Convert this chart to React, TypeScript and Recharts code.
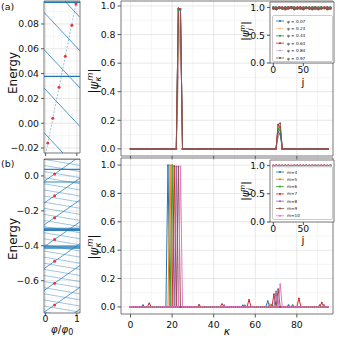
import React from "react";
import {
  ComposedChart,
  LineChart,
  Line,
  Scatter,
  XAxis,
  YAxis,
  CartesianGrid,
  ReferenceArea,
} from "recharts";

const FONT = "'DejaVu Sans', sans-serif";
const TAB = ["#1f77b4", "#ff7f0e", "#2ca02c", "#d62728", "#9467bd", "#8c564b", "#e377c2"];
const BLUE = "#1f77b4";
const DOT_RED = "#e8353a";
const GRID_MAJOR = "#d9d9d9";
const GRID_MINOR = "#eeeeee";
const FRAME = "#555";

// ---------- left panels: energy vs flux ----------
const phiSpan = [-0.05, 1.1];

// (a) zoomed spectrum
const aDownStart = [0.1164, 0.0894, 0.0594, 0.0284, -0.0076];
const aDownEnd = [0.0853, 0.0583, 0.0283, -0.0027, -0.0387];
const aFlat = [0.0975, 0.0377];
const aGuidePhi = [0.0, 1.02];
const aGuideE = [-0.025, 0.1025];
const aDotPhi = [0.07, 0.23, 0.43, 0.63, 0.84, 0.97];
const aDotE = [-0.016, 0.004, 0.029, 0.054, 0.079, 0.096];

// (b) full spectrum
const bDownStart = [0.13, 0.095, 0.06, 0.025, -0.01, -0.045, -0.08, -0.115, -0.15, -0.185, -0.22, -0.255, -0.29, -0.325, -0.36, -0.395, -0.43, -0.465, -0.5, -0.535, -0.57, -0.605, -0.64, -0.675, -0.71, -0.745, -0.78, -0.815];
const bDownEnd = [0.095, 0.06, 0.025, -0.01, -0.045, -0.08, -0.115, -0.15, -0.185, -0.22, -0.255, -0.29, -0.325, -0.36, -0.395, -0.43, -0.465, -0.5, -0.535, -0.57, -0.605, -0.64, -0.675, -0.71, -0.745, -0.78, -0.815, -0.85];
const bUpStart = [0.094, -0.031, -0.156, -0.281, -0.406, -0.531, -0.656, -0.781, -0.906];
const bUpEnd = [0.2375, 0.1125, -0.0125, -0.1375, -0.2625, -0.3875, -0.5125, -0.6375, -0.7625];
const bFlat = [0.0975, 0.0377, -0.035, -0.3, -0.306, -0.312, -0.402, -0.408, -0.414];
const bDotPhi = [0.29, 0.29, 0.29, 0.29, 0.29, 0.29, 0.29];
const bDotE = [0.011, -0.114, -0.239, -0.364, -0.489, -0.614, -0.739];

// ---------- right panels: |psi_kappa^m| ----------
const KAPPA_COUNT = 96;
const phiNames = ["φ = 0.07", "φ = 0.23", "φ = 0.43", "φ = 0.63", "φ = 0.84", "φ = 0.97"];
const phiAlpha = [1, 0.45, 1, 1, 0.45, 1];
const aPeaks: Record<number, number>[] = [
  { 23: 0.98, 24: 0.97, 71: 0.12, 72: 0.1 },
  { 23: 0.63, 24: 0.98, 71: 0.1, 72: 0.16 },
  { 23: 0.97, 24: 0.98, 71: 0.14, 72: 0.13 },
  { 23: 0.985, 24: 0.98, 71: 0.17, 72: 0.15 },
  { 23: 0.5, 24: 0.97, 71: 0.08, 72: 0.17 },
  { 23: 0.98, 24: 0.98, 71: 0.17, 72: 0.18 },
];

const mNames = ["m=4", "m=5", "m=6", "m=7", "m=8", "m=9", "m=10"];
const bPeaks: Record<number, number>[] = [
  { 6: 0.012, 18: 1.0, 54: 0.01, 66: 0.04, 76: 0.012 },
  { 19: 1.0, 67: 0.02 },
  { 20: 1.0, 55: 0.01, 68: 0.015, 78: 0.012, 91: 0.012 },
  { 9: 0.025, 21: 0.995, 33: 0.015, 44: 0.02, 57: 0.05, 69: 0.09, 81: 0.06, 92: 0.03 },
  { 22: 0.99, 45: 0.012, 70: 0.11, 93: 0.015 },
  { 23: 0.99, 71: 0.125 },
  { 24: 0.99, 72: 0.16 },
];

// ---------- insets: |psi_j^m| ----------
const jSamples = [0, 5, 10, 15, 20, 25, 30, 35, 40, 45, 50, 55, 60, 65, 70, 75, 80, 85, 90, 95];
const insetA = [
  [1.0, 0.99, 1.0, 0.99, 1.0, 0.99, 1.0, 1.0, 0.99, 1.0, 0.99, 1.0, 0.99, 1.0, 1.0, 0.99, 1.0, 0.99, 1.0, 0.99],
  [0.99, 1.0, 0.99, 1.0, 0.99, 1.0, 0.99, 0.99, 1.0, 0.99, 1.0, 0.99, 1.0, 0.99, 0.99, 1.0, 0.99, 1.0, 0.99, 1.0],
  [1.0, 1.0, 0.99, 0.99, 1.0, 1.0, 0.99, 1.0, 0.99, 0.99, 1.0, 1.0, 0.99, 1.0, 0.99, 1.0, 1.0, 0.99, 0.99, 1.0],
  [0.99, 0.99, 1.0, 1.0, 0.99, 1.0, 1.0, 0.99, 1.0, 1.0, 0.99, 0.99, 1.0, 0.99, 1.0, 0.99, 0.99, 1.0, 1.0, 0.99],
  [1.0, 1.0, 1.0, 0.99, 1.0, 1.0, 1.0, 1.0, 0.99, 1.0, 1.0, 1.0, 1.0, 0.99, 1.0, 1.0, 1.0, 1.0, 0.99, 1.0],
  [0.98, 0.97, 0.99, 0.98, 0.97, 0.98, 1.0, 0.97, 0.98, 0.98, 0.97, 0.99, 0.98, 0.97, 0.98, 0.97, 0.98, 0.99, 0.97, 0.98],
];
const insetB = [
  [0.99, 1.0, 0.99, 1.0, 0.99, 1.0, 0.99, 1.0, 0.99, 1.0, 0.99, 1.0, 0.99, 1.0, 0.99, 1.0, 0.99, 1.0, 0.99, 1.0],
  [1.0, 0.99, 1.0, 0.99, 1.0, 0.99, 1.0, 0.99, 1.0, 0.99, 1.0, 0.99, 1.0, 0.99, 1.0, 0.99, 1.0, 0.99, 1.0, 0.99],
  [0.99, 0.99, 1.0, 1.0, 0.99, 0.99, 1.0, 1.0, 0.99, 0.99, 1.0, 1.0, 0.99, 0.99, 1.0, 1.0, 0.99, 0.99, 1.0, 1.0],
  [1.0, 1.0, 0.99, 0.99, 1.0, 1.0, 0.99, 0.99, 1.0, 1.0, 0.99, 0.99, 1.0, 1.0, 0.99, 0.99, 1.0, 1.0, 0.99, 0.99],
  [0.99, 1.0, 1.0, 0.99, 1.0, 1.0, 0.99, 1.0, 1.0, 0.99, 1.0, 1.0, 0.99, 1.0, 1.0, 0.99, 1.0, 1.0, 0.99, 1.0],
  [0.98, 0.99, 0.98, 0.99, 0.98, 0.97, 0.98, 0.99, 0.98, 0.99, 0.98, 0.99, 0.97, 0.98, 0.99, 0.98, 0.99, 0.98, 0.99, 0.98],
  [0.99, 1.0, 0.99, 1.0, 0.99, 1.0, 0.99, 1.0, 0.99, 1.0, 0.99, 1.0, 0.99, 1.0, 0.99, 1.0, 0.99, 1.0, 0.99, 1.0],
];

// ---------- table builders ----------
const seg = (e0: number, e1: number) => [
  { x: phiSpan[0], y: e0 },
  { x: phiSpan[1], y: e1 },
];

const profileRows = (peaks: Record<number, number>[]) => {
  const rows: any[] = [];
  for (let k = 0; k < KAPPA_COUNT; k++) {
    const row: any = { k };
    peaks.forEach((p, i) => {
      row["s" + i] = p[k] ?? 0;
    });
    rows.push(row);
  }
  return rows;
};

const insetRows = (series: number[][]) =>
  jSamples.map((j, idx) => {
    const row: any = { j };
    series.forEach((s, i) => {
      row["s" + i] = s[idx];
    });
    return row;
  });

const tickStyle = { fontSize: 9.3, fill: "#111", fontFamily: FONT };
const minus = (s: string) => s.replace("-", "\u2212");

type SegSpec = { data: { x: number; y: number }[]; w: number; o: number; dash?: string };

function SpectrumPanel(props: {
  top: number;
  height: number;
  mTop: number;
  mBottom: number;
  xHeight: number;
  showX: boolean;
  yDomain: [number, number];
  yTicks: number[];
  yMinor: number[];
  digits: number;
  segs: SegSpec[];
  dots: { x: number; y: number }[];
}) {
  const { top, height, mTop, mBottom, xHeight, showX, yDomain, yTicks, yMinor, digits, segs, dots } = props;
  return (
    <div style={{ position: "absolute", left: 0, top, width: 88, height }}>
      <ComposedChart width={88} height={height} margin={{ top: mTop, right: 8, left: 0, bottom: mBottom }}>
        <CartesianGrid stroke={GRID_MINOR} strokeWidth={0.6} horizontalValues={yMinor} verticalValues={[0.25, 0.5, 0.75]} />
        <CartesianGrid stroke={GRID_MAJOR} strokeWidth={0.6} horizontalValues={yTicks} verticalValues={[0, 1]} />
        <XAxis
          type="number"
          dataKey="x"
          domain={phiSpan}
          ticks={[0, 1]}
          allowDataOverflow
          height={xHeight}
          axisLine={false}
          tickSize={3}
          tickMargin={-1}
          tickLine={{ stroke: FRAME }}
          tick={tickStyle}
          tickFormatter={(v: number) => (showX ? String(v) : "")}
        />
        <YAxis
          type="number"
          dataKey="y"
          domain={yDomain}
          ticks={yTicks}
          allowDataOverflow
          width={44}
          axisLine={false}
          tickSize={3}
          tickMargin={2}
          tickLine={{ stroke: FRAME }}
          tick={tickStyle}
          tickFormatter={(v: number) => minus(v.toFixed(digits))}
        />
        {segs.map((s, i) => (
          <Line
            key={i}
            data={s.data}
            dataKey="y"
            stroke={BLUE}
            strokeWidth={s.w}
            strokeOpacity={s.o}
            strokeDasharray={s.dash}
            dot={false}
            isAnimationActive={false}
          />
        ))}
        <Scatter
          data={dots}
          isAnimationActive={false}
          shape={(p: any) => <circle cx={p.cx} cy={p.cy} r={1.5} fill={DOT_RED} />}
        />
        <ReferenceArea x1={phiSpan[0]} x2={phiSpan[1]} y1={yDomain[0]} y2={yDomain[1]} fill="none" stroke={FRAME} strokeWidth={0.8} />
      </ComposedChart>
    </div>
  );
}

const kDomain: [number, number] = [-4.6, 97.4];

function ProfilePanel(props: {
  top: number;
  height: number;
  mTop: number;
  mBottom: number;
  xHeight: number;
  showX: boolean;
  yDomain: [number, number];
  rows: any[];
  colors: string[];
  alpha: number[];
}) {
  const { top, height, mTop, mBottom, xHeight, showX, yDomain, rows, colors, alpha } = props;
  return (
    <div style={{ position: "absolute", left: 88, top, width: 250, height }}>
      <ComposedChart width={250} height={height} data={rows} margin={{ top: mTop, right: 5, left: 0, bottom: mBottom }}>
        <CartesianGrid stroke={GRID_MINOR} strokeWidth={0.6} horizontalValues={[0.1, 0.3, 0.5, 0.7, 0.9]} verticalValues={[10, 30, 50, 70, 90]} />
        <CartesianGrid stroke={GRID_MAJOR} strokeWidth={0.6} horizontalValues={[0, 0.2, 0.4, 0.6, 0.8, 1.0]} verticalValues={[0, 20, 40, 60, 80]} />
        <XAxis
          type="number"
          dataKey="k"
          domain={kDomain}
          ticks={[0, 20, 40, 60, 80]}
          allowDataOverflow
          height={xHeight}
          axisLine={false}
          tickSize={3.5}
          tickMargin={4}
          tickLine={{ stroke: FRAME }}
          tick={tickStyle}
          tickFormatter={(v: number) => (showX ? String(v) : "")}
        />
        <YAxis
          type="number"
          domain={yDomain}
          ticks={[0, 0.2, 0.4, 0.6, 0.8, 1.0]}
          allowDataOverflow
          width={33}
          axisLine={false}
          tickSize={3.5}
          tickMargin={2}
          tickLine={{ stroke: FRAME }}
          tick={tickStyle}
          tickFormatter={(v: number) => v.toFixed(1)}
        />
        {colors.map((c, i) => (
          <Line
            key={i}
            dataKey={"s" + i}
            stroke={c}
            strokeOpacity={alpha[i]}
            strokeWidth={1}
            dot={{ r: 0.9, fill: c, fillOpacity: alpha[i], strokeWidth: 0 }}
            isAnimationActive={false}
          />
        ))}
        <ReferenceArea x1={kDomain[0]} x2={kDomain[1]} y1={yDomain[0]} y2={yDomain[1]} fill="none" stroke={FRAME} strokeWidth={0.8} />
      </ComposedChart>
    </div>
  );
}

const jDomain: [number, number] = [-5.5, 101];

function InsetPanel(props: { top: number; mTop: number; mBottom: number; rows: any[]; colors: string[]; alpha: number[] }) {
  const { top, mTop, mBottom, rows, colors, alpha } = props;
  return (
    <div style={{ position: "absolute", left: 240, top, width: 98, height: 90 }}>
      <div style={{ position: "absolute", left: 30, top: mTop, width: 64, height: 90 - mTop - mBottom - 12, background: "#fff" }} />
      <div style={{ position: "absolute", left: 0, top: 0 }}>
        <LineChart width={98} height={90} data={rows} margin={{ top: mTop, right: 4, left: 0, bottom: mBottom }}>
          <XAxis
            type="number"
            dataKey="j"
            domain={jDomain}
            ticks={[0, 50]}
            allowDataOverflow
            height={12}
            axisLine={false}
            tickSize={3}
            tickMargin={0}
            tickLine={{ stroke: FRAME }}
            tick={tickStyle}
          />
          <YAxis
            type="number"
            domain={[0, 1.1]}
            ticks={[0, 0.5, 1.0]}
            allowDataOverflow
            width={30}
            axisLine={false}
            tickSize={3}
            tickMargin={2}
            tickLine={{ stroke: FRAME }}
            tick={tickStyle}
            tickFormatter={(v: number) => v.toFixed(1)}
          />
          {colors.map((c, i) => (
            <Line
              key={i}
              dataKey={"s" + i}
              stroke={c}
              strokeOpacity={alpha[i]}
              strokeWidth={1.4}
              dot={{ r: 1.2, fill: c, fillOpacity: alpha[i], strokeWidth: 0 }}
              isAnimationActive={false}
            />
          ))}
          <ReferenceArea x1={jDomain[0]} x2={jDomain[1]} y1={0} y2={1.1} fill="none" stroke={FRAME} strokeWidth={0.8} />
        </LineChart>
      </div>
    </div>
  );
}

function InsetLegend(props: { left: number; top: number; width: number; height: number; names: string[]; colors: string[]; alpha: number[]; step: number }) {
  const { left, top, width, height, names, colors, alpha, step } = props;
  return (
    <div
      style={{
        position: "absolute",
        left,
        top,
        width,
        height,
        boxSizing: "border-box",
        border: "0.6px solid #cccccc",
        borderRadius: 2,
        background: "rgba(255,255,255,0.85)",
      }}
    >
      <svg width={width} height={height} style={{ position: "absolute", left: 0, top: 0 }}>
        {names.map((n, i) => {
          const y = 5 + i * step;
          return (
            <g key={n}>
              <line x1={3} x2={11} y1={y} y2={y} stroke={colors[i]} strokeOpacity={alpha[i]} strokeWidth={0.8} />
              <circle cx={7} cy={y} r={1} fill={colors[i]} fillOpacity={alpha[i]} />
              <text x={14} y={y + 1.5} fontSize={4.2} fontFamily={FONT} fill="#111">
                {n}
              </text>
            </g>
          );
        })}
      </svg>
    </div>
  );
}

function PsiLabel({ x, y, sub, size }: { x: number; y: number; sub: string; size: number }) {
  return (
    <text transform={`translate(${x},${y}) rotate(-90)`} textAnchor="middle" fontSize={size} fontFamily={FONT} fill="#111">
      |<tspan fontStyle="italic">ψ</tspan>
      <tspan fontSize={size * 0.7} fontStyle="italic" dy={size * 0.25}>{sub}</tspan>
      <tspan fontSize={size * 0.7} fontStyle="italic" dx={-size * 0.35} dy={-size * 0.65}>m</tspan>
      <tspan dy={size * 0.4}>|</tspan>
    </text>
  );
}

export default function App() {
  const aSegs: SegSpec[] = [
    ...aDownStart.map((e, i) => ({ data: seg(e, aDownEnd[i]), w: 0.9, o: 0.85 })),
    ...aFlat.map((e) => ({ data: seg(e, e), w: 1.3, o: 1 })),
    {
      data: aGuidePhi.map((p, i) => ({ x: p, y: aGuideE[i] })),
      w: 0.9,
      o: 0.5,
      dash: "2 1.5",
    },
  ];
  const bSegs: SegSpec[] = [
    ...bDownStart.map((e, i) => ({ data: seg(e, bDownEnd[i]), w: 0.7, o: 0.6 })),
    ...bUpStart.map((e, i) => ({ data: seg(e, bUpEnd[i]), w: 0.8, o: 0.9 })),
    ...bFlat.map((e) => ({ data: seg(e, e), w: 1.1, o: 0.9 })),
  ];
  const aDots = aDotPhi.map((p, i) => ({ x: p, y: aDotE[i] }));
  const bDots = bDotPhi.map((p, i) => ({ x: p, y: bDotE[i] }));

  const rowsA = profileRows(aPeaks);
  const rowsB = profileRows(bPeaks);
  const alphaB = [1, 1, 1, 1, 1, 1, 1];

  return (
    <div style={{ position: "absolute", left: 0, top: 0, width: 338, height: 338, background: "#fff", fontFamily: FONT }}>
      <ProfilePanel top={0} height={170} mTop={1} mBottom={10} xHeight={4} showX={false} yDomain={[-0.05, 1.035]} rows={rowsA} colors={TAB.slice(0, 6)} alpha={phiAlpha} />
      <ProfilePanel top={150} height={188} mTop={8} mBottom={4} xHeight={20} showX yDomain={[-0.05, 1.05]} rows={rowsB} colors={TAB} alpha={alphaB} />

      <SpectrumPanel
        top={0}
        height={170}
        mTop={1}
        mBottom={13}
        xHeight={4}
        showX={false}
        yDomain={[-0.024, 0.0985]}
        yTicks={[-0.02, 0, 0.02, 0.04, 0.06, 0.08]}
        yMinor={[-0.01, 0.01, 0.03, 0.05, 0.07, 0.09]}
        digits={2}
        segs={aSegs}
        dots={aDots}
      />
      <SpectrumPanel
        top={150}
        height={188}
        mTop={9}
        mBottom={5}
        xHeight={20}
        showX
        yDomain={[-0.785, 0.097]}
        yTicks={[-0.6, -0.4, -0.2, 0]}
        yMinor={[-0.7, -0.5, -0.3, -0.1]}
        digits={1}
        segs={bSegs}
        dots={bDots}
      />

      <InsetPanel top={0} mTop={2} mBottom={15} rows={insetRows(insetA)} colors={TAB.slice(0, 6)} alpha={phiAlpha} />
      <InsetPanel top={150} mTop={10} mBottom={6} rows={insetRows(insetB)} colors={TAB} alpha={alphaB} />

      <InsetLegend left={272} top={15} width={61} height={47} names={phiNames} colors={TAB.slice(0, 6)} alpha={phiAlpha} step={7.4} />
      <InsetLegend left={272} top={166} width={61} height={54} names={mNames} colors={TAB} alpha={alphaB} step={7.3} />

      <svg width={338} height={338} style={{ position: "absolute", left: 0, top: 0, pointerEvents: "none" }}>
        <text x={1} y={10} fontSize={9.5} fontFamily={FONT} fill="#111">(a)</text>
        <text x={1} y={167} fontSize={9.5} fontFamily={FONT} fill="#111">(b)</text>
        <text transform="translate(17,73) rotate(-90)" textAnchor="middle" fontSize={12} fontFamily={FONT} fill="#111">Energy</text>
        <text transform="translate(17,239) rotate(-90)" textAnchor="middle" fontSize={12} fontFamily={FONT} fill="#111">Energy</text>
        <PsiLabel x={98} y={81} sub="κ" size={12} />
        <PsiLabel x={98} y={247} sub="κ" size={12} />
        <PsiLabel x={249} y={31} sub="j" size={10.5} />
        <PsiLabel x={249} y={191} sub="j" size={10.5} />
        <text x={303} y={86} textAnchor="middle" fontSize={10.5} fontFamily={FONT} fill="#111">j</text>
        <text x={303} y={244} textAnchor="middle" fontSize={10.5} fontFamily={FONT} fill="#111">j</text>
        <text x={227} y={335} textAnchor="middle" fontSize={11} fontStyle="italic" fontFamily={FONT} fill="#111">κ</text>
        <text x={62} y={333} textAnchor="middle" fontSize={10.5} fontFamily={FONT} fill="#111">
          <tspan fontStyle="italic">φ</tspan>/<tspan fontStyle="italic">φ</tspan>
          <tspan fontSize={8} dy={1.5}>0</tspan>
        </text>
      </svg>
    </div>
  );
}
